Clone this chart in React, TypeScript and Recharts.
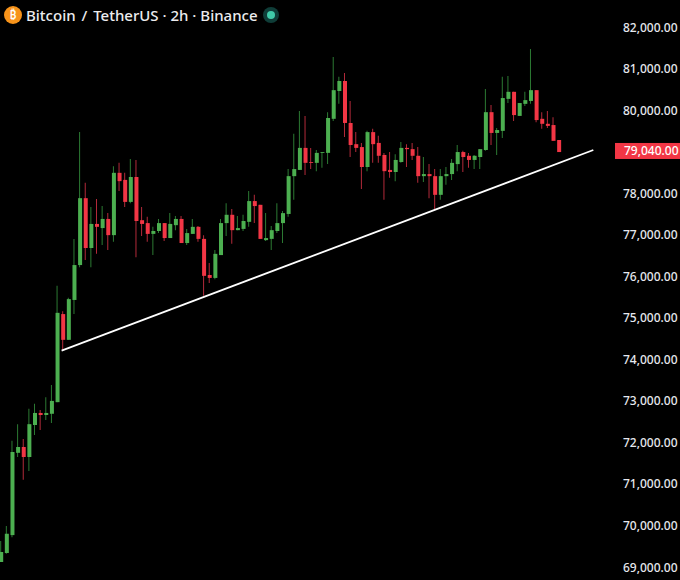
import { Bar, Cell, ComposedChart, ReferenceLine, XAxis, YAxis } from 'recharts';

const opens = [
  69120, 69340, 69770, 71750, 71890, 71650, 72420, 72710, 72660, 72690,
  72970, 75090, 74470, 75430, 76270, 77880, 76680, 77260, 77160, 77380,
  76990, 78490, 78320, 77790, 78390, 77350, 77280, 77020, 77090, 77280,
  76920, 77230, 77380, 76800, 77020, 77190, 76900, 76030, 75960, 76510,
  77280, 77480, 77110, 77140, 77310, 77810, 77720, 76870, 76900, 77090,
  77280, 77500, 78410, 78560, 79090, 78750, 78730, 78970, 78970, 79790,
  80460, 80700, 79690, 79180, 79110, 78630, 79470, 79210, 78920, 78560,
  78510, 78750, 79090, 79060, 78900, 78410, 78460, 78410, 77960, 78410,
  78460, 78700, 78990, 78900, 78800, 78870, 79040, 79950, 79450, 79500,
  80270, 80440, 79860, 80150, 80220, 80480, 79790, 79670, 79640, 79280,
];
const closes = [
  69360, 69800, 71770, 71890, 71650, 72440, 72710, 72660, 72710, 73000,
  75120, 74470, 75450, 76270, 77880, 76680, 77260, 77190, 77380, 76990,
  78490, 78290, 77790, 78390, 77330, 77260, 77020, 77090, 77280, 76920,
  77260, 77380, 76800, 77040, 77190, 76900, 76010, 75960, 76540, 77280,
  77480, 77110, 77160, 77330, 77810, 77690, 76900, 76920, 77110, 77280,
  77520, 78410, 78580, 79090, 78730, 78730, 78970, 78990, 79810, 80480,
  80700, 79690, 79160, 79090, 78630, 79470, 79180, 78900, 78530, 78510,
  78800, 79090, 79060, 78900, 78410, 78460, 78410, 77960, 78410, 78460,
  78730, 78990, 78870, 78800, 78900, 79060, 79950, 79450, 79520, 80290,
  80440, 79880, 80170, 80240, 80480, 79760, 79670, 79620, 79260, 78990,
];
const highs = [
  69630, 69990, 72040, 72440, 72080, 72810, 72930, 72780, 73090, 73380,
  75770, 75160, 75480, 76900, 79470, 78250, 77670, 77860, 77690, 77520,
  78650, 78730, 78490, 78820, 78800, 77670, 77430, 77190, 77380, 77280,
  77520, 77450, 77450, 77140, 77380, 77210, 76990, 76320, 76630, 77380,
  77760, 77620, 77450, 77480, 78050, 77960, 77720, 77520, 77210, 77760,
  77570, 78580, 79430, 79980, 79860, 79090, 79040, 78990, 79950, 81280,
  80800, 80890, 80220, 79470, 79210, 79500, 79550, 79380, 78970, 78990,
  78940, 79230, 79180, 79210, 79110, 78870, 78700, 78580, 78580, 78630,
  78820, 79160, 79020, 78970, 78920, 79060, 80510, 80120, 79570, 80800,
  80820, 80440, 80170, 80440, 81470, 80480, 79950, 79980, 79830, 79280,
];
const lows = [
  69120, 69320, 69720, 71650, 71100, 71310, 72180, 72300, 72540, 72470,
  72970, 74200, 74470, 75090, 76220, 76390, 76220, 76540, 76750, 76630,
  76830, 78050, 77670, 77760, 76460, 76970, 76830, 76510, 77040, 76850,
  76920, 77110, 76800, 76750, 77020, 76830, 75530, 75840, 75930, 76510,
  76970, 76780, 77110, 77090, 77190, 77280, 76900, 76850, 76630, 77040,
  76800, 77430, 77840, 78560, 78440, 78580, 78530, 78610, 78700, 79740,
  80150, 79350, 78870, 78990, 78100, 78530, 78730, 78730, 77840, 78370,
  78290, 78730, 78630, 78800, 78250, 78270, 77880, 77620, 77840, 78200,
  78320, 78530, 78510, 78610, 78580, 78580, 79020, 79160, 78920, 79330,
  80170, 79740, 79860, 80100, 80150, 79710, 79550, 79570, 79260, 78990,
];

const priceTicks = [
  82000, 81000, 80000, 79040, 78000, 77000, 76000, 75000, 74000, 73000, 72000, 71000, 70000, 69000,
];
const lastPrice = 79040;
const trendStart = { x: 10.75, y: 74210 };
const trendEnd = { x: 105.1, y: 79040 };

const candles = opens.map((open, i) => ({
  i,
  open,
  close: closes[i],
  high: highs[i],
  low: lows[i],
  wick: [lows[i], highs[i]],
  body: [Math.min(open, closes[i]), Math.max(open, closes[i])],
}));

const UP = '#4caf50';
const DOWN = '#f23645';
const UP_WICK = '#2c7a33';
const DOWN_WICK = '#b32a3a';
const FONT = '"Noto Sans", sans-serif';

function PriceTick({ y, payload }: any) {
  const isLast = payload.value === lastPrice;
  const text = payload.value.toLocaleString('en-US', { minimumFractionDigits: 2 });
  return (
    <g>
      {isLast && <rect x={615} y={y - 7} width={65} height={16} fill={DOWN} />}
      <text
        x={isLast ? 624 : 623}
        y={isLast ? y + 5.5 : y + 4.5}
        fontFamily={FONT}
        fontSize={12}
        fontWeight={500}
        fill={isLast ? '#ffffff' : '#e6e8ee'}
      >
        {text}
      </text>
    </g>
  );
}

function Header() {
  return (
    <div
      style={{
        position: 'absolute',
        left: 0,
        top: 0,
        width: 300,
        height: 30,
        fontFamily: FONT,
        fontSize: 15,
        fontWeight: 500,
        color: '#ececee',
      }}
    >
      <div
        style={{
          position: 'absolute',
          left: 4,
          top: 6,
          width: 18,
          height: 18,
          borderRadius: 9,
          background: '#f7931a',
          color: '#fff',
          fontSize: 12,
          lineHeight: '18px',
          textAlign: 'center',
        }}
      >
        ₿
      </div>
      <div style={{ position: 'absolute', left: 26, top: 6, whiteSpace: 'nowrap', lineHeight: '19px' }}>
        Bitcoin <span style={{ margin: '0 2px' }}>/</span> TetherUS · 2h · Binance
      </div>
      <div
        style={{
          position: 'absolute',
          left: 263,
          top: 7,
          width: 16,
          height: 16,
          borderRadius: 8,
          background: '#0f3d38',
        }}
      />
      <div
        style={{
          position: 'absolute',
          left: 267,
          top: 11,
          width: 8,
          height: 8,
          borderRadius: 4,
          background: '#3fc9a8',
        }}
      />
    </div>
  );
}

export default function App() {
  const domainX: [number, number] = [-0.18, 108.41];
  return (
    <div style={{ position: 'absolute', left: 0, top: 0, width: 680, height: 580, background: '#000', overflow: 'hidden' }}>
      <ComposedChart width={680} height={580} data={candles} margin={{ top: 0, right: 0, bottom: 0, left: 0 }}>
        <XAxis xAxisId="wick" dataKey="i" type="number" domain={domainX} hide allowDataOverflow />
        <XAxis xAxisId="body" dataKey="i" type="number" domain={domainX} hide allowDataOverflow />
        <YAxis
          yAxisId="price"
          orientation="right"
          width={68}
          domain={[68689, 82650]}
          allowDataOverflow
          ticks={priceTicks}
          interval={0}
          axisLine={false}
          tickLine={false}
          tick={<PriceTick />}
        />
        <Bar xAxisId="wick" yAxisId="price" dataKey="wick" barSize={1} isAnimationActive={false}>
          {candles.map((d) => (
            <Cell key={d.i} fill={d.close >= d.open ? UP_WICK : DOWN_WICK} />
          ))}
        </Bar>
        <Bar xAxisId="body" yAxisId="price" dataKey="body" barSize={4} isAnimationActive={false}>
          {candles.map((d) => (
            <Cell key={d.i} fill={d.close >= d.open ? UP : DOWN} />
          ))}
        </Bar>
        <ReferenceLine
          xAxisId="wick"
          yAxisId="price"
          segment={[trendStart, trendEnd]}
          stroke="#ffffff"
          strokeWidth={1.8}
          ifOverflow="visible"
        />
      </ComposedChart>
      <Header />
    </div>
  );
}
